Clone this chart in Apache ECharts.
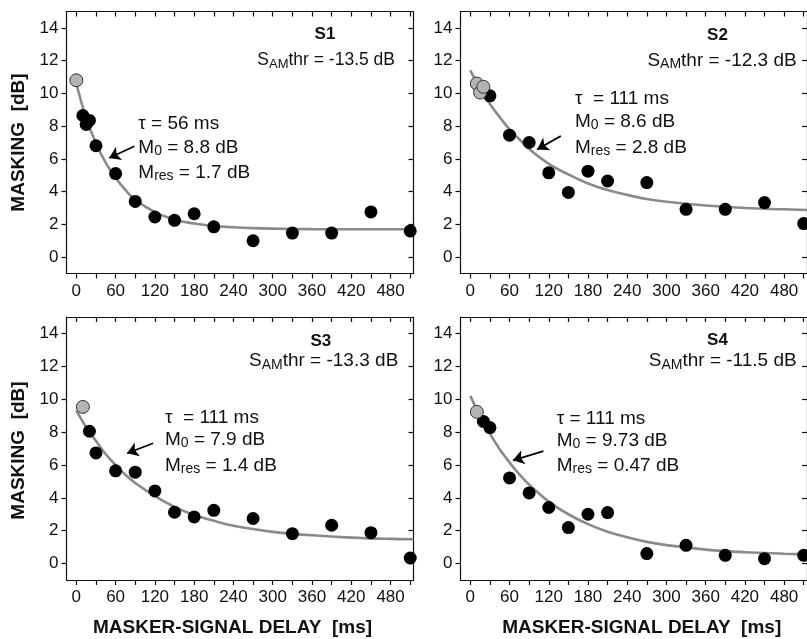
<!DOCTYPE html>
<html><head><meta charset="utf-8">
<script src="https://cdn.jsdelivr.net/npm/echarts@6/dist/echarts.min.js"></script>
<style>html,body{margin:0;padding:0;background:#fff}#c{width:807px;height:639px}</style>
</head><body><div id="c"></div>
<script>
// ---------- data ----------
const subjects = ['S1', 'S2', 'S3', 'S4'];
const sAmThr = ['-13.5', '-12.3', '-13.3', '-11.5'];
const tauText = ['\u03c4 = 56 ms', '\u03c4  = 111 ms', '\u03c4  = 111 ms', '\u03c4 = 111 ms'];
const m0Text = ['8.8', '8.6', '7.9', '9.73'];
const mResText = ['1.7', '2.8', '1.4', '0.47'];

const xTickValues = [0, 30, 60, 90, 120, 150, 180, 210, 240, 270, 300, 330, 360, 390, 420, 450, 480, 510];
const xLabelValues = [0, 60, 120, 180, 240, 300, 360, 420, 480];
const yTickValues = [0, 2, 4, 6, 8, 10, 12, 14];

// measured points (black)
const s1Delay = [10, 15, 20, 30, 60, 90, 120, 150, 180, 210, 270, 330, 390, 450, 510];
const s1Mask  = [8.65, 8.1, 8.35, 6.8, 5.1, 3.4, 2.45, 2.25, 2.65, 1.85, 1.0, 1.47, 1.47, 2.76, 1.6];
const s2Delay = [30, 60, 90, 120, 150, 180, 210, 270, 330, 390, 450, 510];
const s2Mask  = [9.85, 7.45, 7.0, 5.15, 3.95, 5.25, 4.65, 4.55, 2.92, 2.92, 3.33, 2.05];
const s3Delay = [20, 30, 60, 90, 120, 150, 180, 210, 270, 330, 390, 450, 510];
const s3Mask  = [8.05, 6.73, 5.64, 5.56, 4.42, 3.12, 2.84, 3.24, 2.74, 1.82, 2.33, 1.88, 0.34];
const s4Delay = [20, 30, 60, 90, 120, 150, 180, 210, 270, 330, 390, 450, 510];
const s4Mask  = [8.65, 8.27, 5.21, 4.3, 3.41, 2.19, 3.0, 3.1, 0.61, 1.11, 0.5, 0.3, 0.5];

// grey points
const s1GreyDelay = [0];          const s1GreyMask = [10.8];
const s2GreyDelay = [10, 15, 20]; const s2GreyMask = [10.6, 10.05, 10.4];
const s3GreyDelay = [10];         const s3GreyMask = [9.53];
const s4GreyDelay = [10];         const s4GreyMask = [9.23];

// fitted curves
const curveDelay = [0, 15, 30, 45, 60, 75, 90, 120, 150, 180, 210, 240, 270, 300, 360, 420, 480, 515];
const s1Curve = [10.6, 8.5, 6.95, 5.75, 4.85, 4.1, 3.5, 2.75, 2.3, 2.05, 1.9, 1.82, 1.77, 1.74, 1.71, 1.7, 1.7, 1.7];
const s2Curve = [11.4, 10.3, 9.35, 8.55, 7.8, 7.2, 6.6, 5.7, 5.05, 4.5, 4.1, 3.8, 3.55, 3.38, 3.15, 3.0, 2.92, 2.88];
const s3Curve = [9.3, 8.3, 7.45, 6.65, 6.0, 5.4, 4.9, 4.1, 3.45, 2.95, 2.6, 2.3, 2.1, 1.93, 1.72, 1.58, 1.5, 1.48];
const s4Curve = [10.2, 8.97, 7.9, 6.95, 6.15, 5.42, 4.8, 3.77, 3.0, 2.4, 1.94, 1.6, 1.32, 1.12, 0.85, 0.69, 0.6, 0.56];

// annotation arrows [tailDelay, tailMask, headDelay, headMask]
const arrows = [[88.6, 6.77, 50.1, 6.05], [138.5, 7.4, 102.3, 6.58], [117.3, 7.32, 77.6, 6.71], [111.8, 6.84, 65.2, 6.28]];

// ---------- layout ----------
const FONT = 'Liberation Sans, Arial, Helvetica, sans-serif';
const blackD = [s1Delay, s2Delay, s3Delay, s4Delay];
const blackM = [s1Mask, s2Mask, s3Mask, s4Mask];
const greyD = [s1GreyDelay, s2GreyDelay, s3GreyDelay, s4GreyDelay];
const greyM = [s1GreyMask, s2GreyMask, s3GreyMask, s4GreyMask];
const curves = [s1Curve, s2Curve, s3Curve, s4Curve];
const zip = (a, b) => a.map((v, i) => [v, b[i]]);

const grids = [
  {left: 66.5, top: 11.5, width: 347, height: 262},
  {left: 460.5, top: 11.5, width: 347, height: 262},
  {left: 66.5, top: 317, width: 347, height: 263},
  {left: 460.5, top: 317, width: 347, height: 263}
];

const xAxes = [], yAxes = [], series = [];
grids.forEach((g, i) => {
  const lineStyle = {color: '#111', width: 1.2};
  xAxes.push({
    type: 'value', gridIndex: i, position: 'bottom', min: -15, max: 515,
    axisLine: {show: true, onZero: false, lineStyle},
    axisTick: {show: true, inside: false, length: 5, lineStyle, customValues: xTickValues},
    axisLabel: {show: true, margin: 9, fontSize: 17, color: '#111', fontFamily: FONT, customValues: xLabelValues},
    splitLine: {show: false}
  });
  xAxes.push({
    type: 'value', gridIndex: i, position: 'top', min: -15, max: 515,
    axisLine: {show: true, onZero: false, lineStyle},
    axisTick: {show: true, inside: true, length: 5, lineStyle, customValues: xTickValues},
    axisLabel: {show: false}, splitLine: {show: false}
  });
  yAxes.push({
    type: 'value', gridIndex: i, position: 'left', min: -1, max: 15,
    axisLine: {show: true, onZero: false, lineStyle},
    axisTick: {show: true, inside: false, length: 5, lineStyle, customValues: yTickValues},
    axisLabel: {show: true, margin: 8, fontSize: 17, color: '#111', fontFamily: FONT, customValues: yTickValues},
    splitLine: {show: false}
  });
  yAxes.push({
    type: 'value', gridIndex: i, position: 'right', min: -1, max: 15,
    axisLine: {show: true, onZero: false, lineStyle},
    axisTick: {show: true, inside: true, length: 5, lineStyle, customValues: yTickValues},
    axisLabel: {show: false}, splitLine: {show: false}
  });
  const a = arrows[i];
  series.push({
    type: 'line', xAxisIndex: 2 * i, yAxisIndex: 2 * i, data: zip(curveDelay, curves[i]),
    smooth: 0.4, showSymbol: false, symbol: 'none',
    lineStyle: {color: '#8a8a8a', width: 2.6}, z: 2, silent: true,
    markLine: {
      silent: true, animation: false, label: {show: false},
      symbol: ['none', 'arrow'], symbolSize: 11, symbolKeepAspect: false,
      lineStyle: {color: '#000', width: 1.8, type: 'solid', opacity: 1},
      itemStyle: {color: '#000'},
      data: [[{coord: [a[0], a[1]]}, {coord: [a[2], a[3]]}]]
    }
  });
  series.push({
    type: 'scatter', xAxisIndex: 2 * i, yAxisIndex: 2 * i, data: zip(blackD[i], blackM[i]),
    symbol: 'circle', symbolSize: 13, itemStyle: {color: '#000', opacity: 1}, z: 3
  });
  series.push({
    type: 'scatter', xAxisIndex: 2 * i, yAxisIndex: 2 * i, data: zip(greyD[i], greyM[i]),
    symbol: 'circle', symbolSize: 13, itemStyle: {color: '#b4b4b4', borderColor: '#333', borderWidth: 1, opacity: 1}, z: 4
  });
});

// ---------- texts ----------
function rich(fs) {
  return {
    m: {fontSize: fs, fontFamily: FONT, lineHeight: 20, verticalAlign: 'top', fill: '#111', color: '#111'},
    s: {fontSize: Math.round(fs * 0.72), fontFamily: FONT, lineHeight: 10, verticalAlign: 'bottom', fill: '#111', color: '#111'}
  };
}
function txt(x, y, text, fs, align) {
  return {
    type: 'text', x, y, z: 10, silent: true,
    style: {text, rich: rich(fs), align, verticalAlign: 'middle', fill: '#111', font: fs + 'px ' + FONT}
  };
}
const labelPos = [[325, 34], [717.5, 35], [320.8, 341], [717.5, 340]];
const thrPos = [[395, 61.3, 17.5], [796.7, 61, 19], [398.3, 361.7, 19], [796.7, 361.7, 19]];
const annPos = [[138.3, 124.5, 148, 173], [575, 99.5, 122.5, 148], [165, 418, 440, 466.5], [556.7, 419, 441, 466.5]];

const graphic = [];
subjects.forEach((s, i) => {
  graphic.push({
    type: 'text', x: labelPos[i][0], y: labelPos[i][1], z: 10, silent: true,
    style: {text: s, font: 'bold 17px ' + FONT, fill: '#111', align: 'center', verticalAlign: 'middle'}
  });
  graphic.push(txt(thrPos[i][0], thrPos[i][1], '{m|S}{s|AM}{m|thr = ' + sAmThr[i] + ' dB}', thrPos[i][2], 'right'));
  const ap = annPos[i];
  graphic.push(txt(ap[0], ap[1], '{m|' + tauText[i] + '}', 19, 'left'));
  graphic.push(txt(ap[0], ap[2], '{m|M}{s|0}{m| = ' + m0Text[i] + ' dB}', 19, 'left'));
  graphic.push(txt(ap[0], ap[3], '{m|M}{s|res}{m| = ' + mResText[i] + ' dB}', 19, 'left'));
});
// axis titles
[[18.5, 142.5], [18.5, 450.5]].forEach(p => graphic.push({
  type: 'text', x: p[0], y: p[1], rotation: Math.PI / 2, z: 10, silent: true,
  style: {text: 'MASKING  [dB]', font: 'bold 19px ' + FONT, fill: '#111', align: 'center', verticalAlign: 'middle'}
}));
[[232.5, 628], [641.7, 628]].forEach(p => graphic.push({
  type: 'text', x: p[0], y: p[1], z: 10, silent: true,
  style: {text: 'MASKER-SIGNAL DELAY  [ms]', font: 'bold 19px ' + FONT, fill: '#111', align: 'center', verticalAlign: 'middle'}
}));

const chart = echarts.init(document.getElementById('c'), null, {renderer: 'canvas'});
chart.setOption({
  animation: false,
  backgroundColor: '#fff',
  grid: grids.map(g => Object.assign({containLabel: false}, g)),
  xAxis: xAxes, yAxis: yAxes, series, graphic
});
</script></body></html>
